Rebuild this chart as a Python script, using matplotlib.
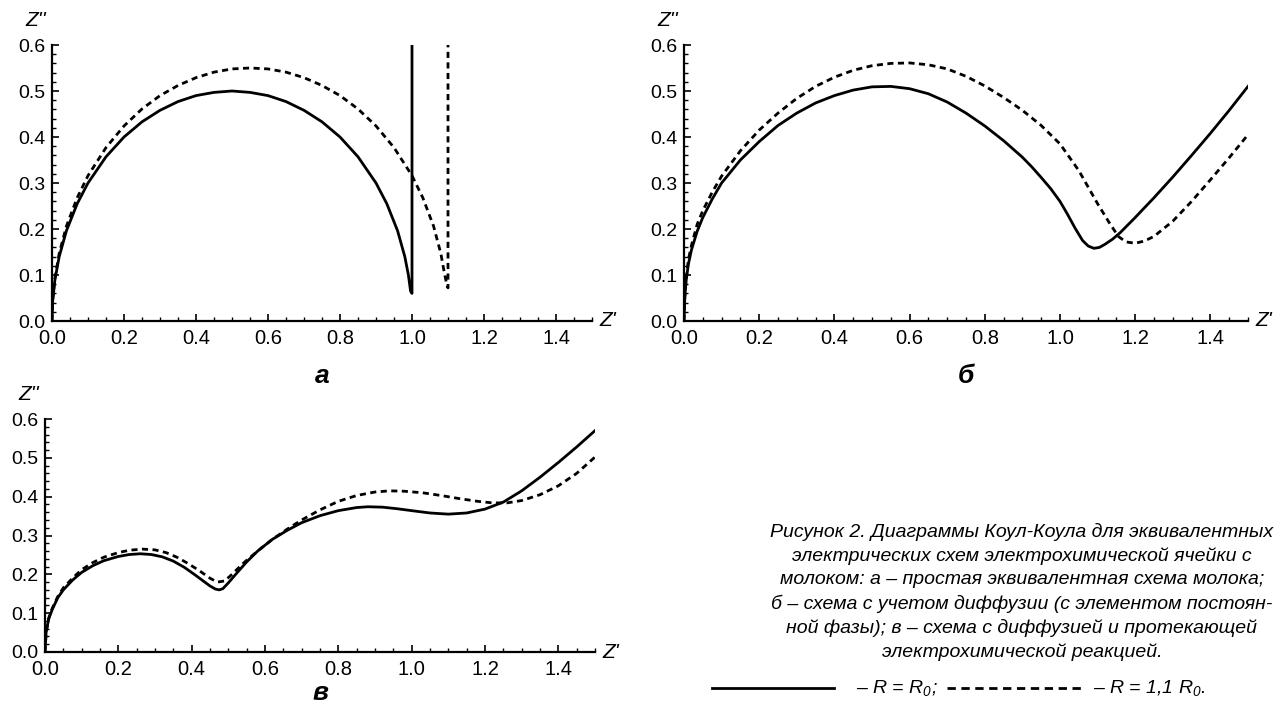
import matplotlib
matplotlib.use("Agg")
import matplotlib.pyplot as plt
from matplotlib.lines import Line2D
from matplotlib.ticker import MultipleLocator, FormatStrFormatter

plt.rcParams['font.family'] = ['Liberation Sans', 'DejaVu Sans']
plt.rcParams['mathtext.fontset'] = 'custom'
plt.rcParams['mathtext.rm'] = 'Liberation Sans:italic'
plt.rcParams['mathtext.it'] = 'Liberation Sans:italic'

# ---- data (Z', Z'') ----
# panel a: simple equivalent circuit
a_solid_x = [0.0, 0.002, 0.008, 0.02, 0.04, 0.07, 0.1, 0.15, 0.2, 0.25, 0.3, 0.35, 0.4, 0.45, 0.5,
             0.55, 0.6, 0.65, 0.7, 0.75, 0.8, 0.85, 0.9, 0.93, 0.96, 0.98, 0.99, 0.996, 1.0, 1.0]
a_solid_y = [0.0, 0.045, 0.089, 0.14, 0.196, 0.255, 0.30, 0.357, 0.40, 0.433, 0.458, 0.477, 0.49, 0.497, 0.50,
             0.497, 0.49, 0.477, 0.458, 0.433, 0.40, 0.357, 0.30, 0.255, 0.196, 0.14, 0.10, 0.065, 0.06, 0.60]
a_dash_x = [0.0, 0.002, 0.008, 0.02, 0.04, 0.07, 0.1, 0.15, 0.2, 0.25, 0.3, 0.35, 0.4, 0.45, 0.5, 0.55,
            0.6, 0.65, 0.7, 0.75, 0.8, 0.85, 0.9, 0.95, 1.0, 1.03, 1.06, 1.08, 1.09, 1.097, 1.1, 1.1]
a_dash_y = [0.0, 0.047, 0.093, 0.147, 0.206, 0.268, 0.316, 0.377, 0.424, 0.461, 0.49, 0.512, 0.529, 0.541, 0.548, 0.55,
            0.548, 0.541, 0.529, 0.512, 0.49, 0.461, 0.424, 0.377, 0.316, 0.268, 0.206, 0.147, 0.104, 0.078, 0.072, 0.60]

# panel б: circuit with diffusion (CPE)
b_solid_x = [0.0, 0.002, 0.006, 0.012, 0.02, 0.035, 0.05, 0.075, 0.1, 0.15, 0.2, 0.25, 0.3, 0.35, 0.4, 0.45,
             0.5, 0.55, 0.6, 0.65, 0.7, 0.75, 0.8, 0.85, 0.9, 0.925, 0.95, 0.975, 1.0, 1.02, 1.04, 1.06, 1.075, 1.09,
             1.105, 1.12, 1.14, 1.16, 1.2, 1.25, 1.3, 1.35, 1.4, 1.45, 1.5]
b_solid_y = [0.0, 0.05, 0.09, 0.125, 0.155, 0.195, 0.225, 0.265, 0.30, 0.35, 0.39, 0.425, 0.452, 0.474, 0.49, 0.502,
             0.509, 0.51, 0.505, 0.494, 0.476, 0.452, 0.424, 0.392, 0.356, 0.335, 0.312, 0.288, 0.26, 0.232, 0.202, 0.175,
             0.163, 0.158, 0.16, 0.167, 0.178, 0.192, 0.225, 0.268, 0.313, 0.36, 0.408, 0.458, 0.51]
b_dash_x = [0.0, 0.002, 0.006, 0.012, 0.02, 0.035, 0.05, 0.075, 0.1, 0.15, 0.2, 0.25, 0.3, 0.35, 0.4, 0.45,
            0.5, 0.55, 0.6, 0.65, 0.7, 0.75, 0.8, 0.85, 0.9, 0.95, 1.0, 1.05, 1.1, 1.13, 1.155, 1.175,
            1.2, 1.225, 1.25, 1.3, 1.35, 1.4, 1.45, 1.5]
b_dash_y = [0.0, 0.05, 0.095, 0.135, 0.165, 0.21, 0.24, 0.28, 0.315, 0.37, 0.415, 0.452, 0.484, 0.51, 0.53, 0.545,
            0.555, 0.56, 0.561, 0.557, 0.548, 0.532, 0.511, 0.486, 0.458, 0.425, 0.385, 0.327, 0.255, 0.215, 0.184, 0.172,
            0.169, 0.174, 0.184, 0.217, 0.26, 0.307, 0.355, 0.405]

# panel в: circuit with diffusion and electrochemical reaction
c_solid_x = [0.0, 0.003, 0.01, 0.02, 0.035, 0.05, 0.075, 0.1, 0.13, 0.16, 0.2, 0.23, 0.26, 0.29, 0.32, 0.35,
             0.38, 0.41, 0.43, 0.45, 0.465, 0.475, 0.485, 0.5, 0.52, 0.55, 0.58, 0.62, 0.66, 0.7, 0.75, 0.8,
             0.85, 0.88, 0.92, 0.96, 1.0, 1.05, 1.1, 1.15, 1.2, 1.25, 1.3, 1.35, 1.4, 1.45, 1.5]
c_solid_y = [0.0, 0.05, 0.085, 0.11, 0.14, 0.16, 0.185, 0.205, 0.222, 0.235, 0.246, 0.251, 0.253, 0.251, 0.245, 0.234,
             0.218, 0.198, 0.184, 0.17, 0.162, 0.16, 0.163, 0.178, 0.2, 0.232, 0.26, 0.29, 0.313, 0.333, 0.351, 0.364,
             0.372, 0.374, 0.373, 0.369, 0.364, 0.358, 0.355, 0.358, 0.368, 0.386, 0.415, 0.45, 0.488, 0.528, 0.57]
c_dash_x = [0.0, 0.003, 0.01, 0.02, 0.035, 0.05, 0.075, 0.1, 0.13, 0.16, 0.2, 0.23, 0.265, 0.3, 0.33, 0.36,
            0.39, 0.42, 0.45, 0.47, 0.49, 0.51, 0.54, 0.58, 0.62, 0.66, 0.7, 0.75, 0.8, 0.85, 0.9, 0.94,
            0.98, 1.03, 1.08, 1.13, 1.18, 1.22, 1.26, 1.3, 1.35, 1.4, 1.45, 1.5]
c_dash_y = [0.0, 0.05, 0.087, 0.113, 0.143, 0.165, 0.19, 0.212, 0.23, 0.244, 0.256, 0.262, 0.265, 0.263, 0.256, 0.244,
            0.228, 0.21, 0.19, 0.18, 0.183, 0.2, 0.228, 0.26, 0.29, 0.316, 0.34, 0.366, 0.388, 0.403, 0.412, 0.415,
            0.414, 0.41, 0.403, 0.395, 0.388, 0.384, 0.384, 0.39, 0.405, 0.428, 0.46, 0.502]

x_ticks = [0.0, 0.2, 0.4, 0.6, 0.8, 1.0, 1.2, 1.4]
y_ticks = [0.0, 0.1, 0.2, 0.3, 0.4, 0.5, 0.6]

caption_lines = [
    "Рисунок 2. Диаграммы Коул-Коула для эквивалентных",
    "электрических схем электрохимической ячейки с",
    "молоком: а – простая эквивалентная схема молока;",
    "б – схема с учетом диффузии (с элементом постоян-",
    "ной фазы); в – схема с диффузией и протекающей",
    "электрохимической реакцией.",
]

W, H = 1281, 707
fig = plt.figure(figsize=(W / 100, H / 100), dpi=100)


def px_axes(x0, x1, ytop, ybot):
    return fig.add_axes([x0 / W, 1 - ybot / H, (x1 - x0) / W, (ybot - ytop) / H])


def fx(px):
    return px / W


def fy(py):
    return 1 - py / H


def style_axes(ax):
    ax.set_xlim(0, 1.5)
    ax.set_ylim(0, 0.6)
    for s in ['top', 'right']:
        ax.spines[s].set_visible(False)
    for s in ['left', 'bottom']:
        ax.spines[s].set_linewidth(1.6)
    ax.set_xticks(x_ticks)
    ax.set_yticks(y_ticks)
    ax.xaxis.set_minor_locator(MultipleLocator(0.05))
    ax.yaxis.set_minor_locator(MultipleLocator(0.02))
    ax.xaxis.set_major_formatter(FormatStrFormatter('%.1f'))
    ax.yaxis.set_major_formatter(FormatStrFormatter('%.1f'))
    ax.tick_params(which='major', direction='in', length=5, width=1.2)
    ax.tick_params(which='minor', direction='in', length=3, width=1.0)
    ax.tick_params(axis='x', labelsize=14.5, pad=6)
    ax.tick_params(axis='y', labelsize=14, pad=5)
    ax.patch.set_alpha(0)


def draw(ax, sx, sy, dx, dy):
    ax.plot(sx, sy, color='black', lw=2.0, solid_joinstyle='round')
    ax.plot(dx, dy, color='black', lw=2.0, dashes=(2.2, 1.6))


panels = [
    (52, 592, 45, 321, a_solid_x, a_solid_y, a_dash_x, a_dash_y, 'а', 376),
    (684, 1248, 45, 321, b_solid_x, b_solid_y, b_dash_x, b_dash_y, 'б', 376),
    (45, 595, 419, 652, c_solid_x, c_solid_y, c_dash_x, c_dash_y, 'в', 693),
]

for x0, x1, yt, yb, sx, sy, dx, dy, letter, ly_letter in panels:
    ax = px_axes(x0, x1, yt, yb)
    style_axes(ax)
    draw(ax, sx, sy, dx, dy)
    fig.text(fx(x0 - 16), fy(yt - 24), "Z''", fontsize=15, style='italic', ha='center', va='center')
    fig.text(fx(x1 + 16), fy(yb), "Z'", fontsize=15, style='italic', ha='center', va='center')
    fig.text(fx((x0 + x1) / 2), fy(ly_letter), letter, fontsize=19, style='italic', weight='bold',
             ha='center', va='center')

# caption
for i, line in enumerate(caption_lines):
    fig.text(fx(1022), fy(532 + i * 24), line, fontsize=14, style='italic', ha='center', va='center')

# legend line
ly = 688
fig.add_artist(Line2D([fx(712), fx(834)], [fy(ly), fy(ly)], color='black', lw=2.0))
fig.text(fx(856), fy(ly), "– R = R$_0$;", fontsize=14, style='italic', ha='left', va='center')
fig.add_artist(Line2D([fx(947), fx(1085)], [fy(ly), fy(ly)], color='black', lw=2.0, dashes=(3.0, 2.0)))
fig.text(fx(1093), fy(ly), "– R = 1,1 R$_0$.", fontsize=14, style='italic', ha='left', va='center')

fig.savefig('out.png', dpi=100)
